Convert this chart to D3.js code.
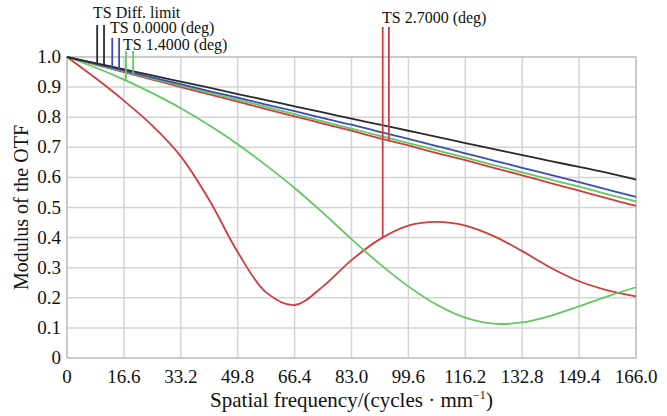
<!DOCTYPE html>
<head>
<meta charset="utf-8">
<style>
body { margin: 0; background: white; }
svg text { font-family: "Liberation Serif", "DejaVu Serif", serif; fill: #111; }
</style>
</head>
<body>
<svg id="chart" width="667" height="416"></svg>
<script src="https://d3js.org/d3.v7.min.js"></script>
<script>
// spatial frequency ticks (cycles/mm)
var freqTicks = [0, 16.6, 33.2, 49.8, 66.4, 83.0, 99.6, 116.2, 132.8, 149.4, 166.0];
var mtfTicks = [0, 0.1, 0.2, 0.3, 0.4, 0.5, 0.6, 0.7, 0.8, 0.9, 1.0];

// sample frequencies for the curves
var freq = [0, 8.3, 16.6, 24.9, 33.2, 41.5, 49.8, 58.1, 66.4, 74.7, 83.0, 91.3, 99.6, 107.9, 116.2, 124.5, 132.8, 141.1, 149.4, 157.7, 166.0];

var diffLimit = [1.0, 0.980, 0.959, 0.939, 0.918, 0.898, 0.877, 0.857, 0.836, 0.816, 0.795, 0.775, 0.755, 0.735, 0.714, 0.694, 0.674, 0.654, 0.635, 0.615, 0.593];
var ts00 = [1.0, 0.977, 0.955, 0.932, 0.910, 0.887, 0.865, 0.842, 0.820, 0.797, 0.775, 0.751, 0.728, 0.704, 0.680, 0.656, 0.632, 0.608, 0.584, 0.559, 0.535];
var ts14s = [1.0, 0.976, 0.952, 0.928, 0.905, 0.881, 0.858, 0.834, 0.810, 0.786, 0.762, 0.738, 0.714, 0.690, 0.666, 0.641, 0.617, 0.593, 0.569, 0.544, 0.520];
var ts14t = [1.0, 0.965, 0.925, 0.880, 0.830, 0.773, 0.710, 0.640, 0.565, 0.482, 0.395, 0.312, 0.238, 0.177, 0.134, 0.114, 0.118, 0.140, 0.172, 0.205, 0.235];
var ts27s = [1.0, 0.975, 0.950, 0.925, 0.900, 0.876, 0.852, 0.827, 0.803, 0.779, 0.755, 0.730, 0.706, 0.681, 0.657, 0.632, 0.607, 0.581, 0.556, 0.530, 0.505];
var ts27t = [1.0, 0.93, 0.855, 0.772, 0.670, 0.525, 0.352, 0.218, 0.176, 0.238, 0.325, 0.395, 0.440, 0.452, 0.440, 0.405, 0.355, 0.300, 0.255, 0.225, 0.205];

// field markers: frequency positions of the two ticks under each label
var markerNames = ["TS Diff. limit", "TS 0.0000 (deg)", "TS 1.4000 (deg)", "TS 2.7000 (deg)"];
var markerFreq = [[8.8, 10.8], [13.2, 15.2], [17.2, 19.3], [92.1, 93.9]];

var svg = d3.select("#chart");
var margin = { left: 67, right: 31, top: 57, bottom: 58 };
var width = 667 - margin.left - margin.right;
var height = 416 - margin.top - margin.bottom;

var x = d3.scaleLinear().domain([0, 166]).range([margin.left, margin.left + width]);
var y = d3.scaleLinear().domain([0, 1]).range([margin.top + height, margin.top]);

// grid
svg.append("g")
    .selectAll("line")
    .data(freqTicks)
    .enter().append("line")
    .attr("x1", function(d) { return x(d); })
    .attr("x2", function(d) { return x(d); })
    .attr("y1", y(0))
    .attr("y2", y(1))
    .attr("stroke", "#d4d4d4")
    .attr("stroke-width", 1.5);
svg.append("g")
    .selectAll("line")
    .data(mtfTicks)
    .enter().append("line")
    .attr("x1", x(0))
    .attr("x2", x(166))
    .attr("y1", function(d) { return y(d); })
    .attr("y2", function(d) { return y(d); })
    .attr("stroke", "#d4d4d4")
    .attr("stroke-width", 1.5);
svg.append("rect")
    .attr("x", x(0))
    .attr("y", y(1))
    .attr("width", width)
    .attr("height", height)
    .attr("fill", "none")
    .attr("stroke", "#c4c4c4")
    .attr("stroke-width", 1.5);

// tick labels
svg.append("g")
    .selectAll("text")
    .data(mtfTicks)
    .enter().append("text")
    .attr("x", x(0) - 6)
    .attr("y", function(d) { return y(d) + 6; })
    .attr("text-anchor", "end")
    .attr("font-size", 19)
    .text(function(d) { return d === 0 ? "0" : d.toFixed(1); });
svg.append("g")
    .selectAll("text")
    .data(freqTicks)
    .enter().append("text")
    .attr("x", function(d) { return x(d); })
    .attr("y", y(0) + 25)
    .attr("text-anchor", "middle")
    .attr("font-size", 19)
    .text(function(d) { return d === 0 ? "0" : d.toFixed(1); });

// axis titles
svg.append("text")
    .attr("transform", "translate(28," + (margin.top + height / 2) + ") rotate(-90)")
    .attr("text-anchor", "middle")
    .attr("font-size", 20)
    .text("Modulus of the OTF");
var xt = svg.append("text")
    .attr("x", margin.left + width / 2)
    .attr("y", 407)
    .attr("text-anchor", "middle")
    .attr("font-size", 21);
xt.append("tspan").text("Spatial frequency/(cycles \u00b7 mm");
xt.append("tspan").attr("dy", -8).attr("font-size", 12).text("\u22121");
xt.append("tspan").attr("dy", 8).text(")");

// curves
var line = d3.line()
    .x(function(d, i) { return x(freq[i]); })
    .y(function(d) { return y(d); })
    .curve(d3.curveCatmullRom.alpha(0.5));

var series = [
    { values: ts27t, color: "#d23c3f" },
    { values: ts14t, color: "#63c763" },
    { values: ts27s, color: "#d23c3f" },
    { values: ts14s, color: "#63c763" },
    { values: ts00, color: "#3a4db3" },
    { values: diffLimit, color: "#2a2a2a" }
];
svg.append("g")
    .selectAll("path")
    .data(series)
    .enter().append("path")
    .attr("d", function(d) { return line(d.values); })
    .attr("fill", "none")
    .attr("stroke", function(d) { return d.color; })
    .attr("stroke-width", 1.8);

// markers
var markerColor = ["#2a2a2a", "#3a4db3", "#63c763", "#d23c3f"];
var markerTop = [25, 38, 51, 27];
var markerEnd = [[diffLimit, diffLimit], [ts00, ts00], [ts14t, ts14s], [ts27t, ts27s]];
var labelPos = [[93, 18], [110, 33], [123, 50], [382, 23]];

function valueAt(arr, f) {
    for (var i = 1; i < freq.length; i++) {
        if (f <= freq[i]) {
            var t = (f - freq[i - 1]) / (freq[i] - freq[i - 1]);
            return arr[i - 1] + t * (arr[i] - arr[i - 1]);
        }
    }
    return arr[arr.length - 1];
}

markerFreq.forEach(function(pair, k) {
    pair.forEach(function(f, j) {
        svg.append("line")
            .attr("x1", x(f))
            .attr("x2", x(f))
            .attr("y1", markerTop[k])
            .attr("y2", y(valueAt(markerEnd[k][j], f)))
            .attr("stroke", markerColor[k])
            .attr("stroke-width", 1.8);
    });
    svg.append("text")
        .attr("x", labelPos[k][0])
        .attr("y", labelPos[k][1])
        .attr("font-size", 16)
        .text(markerNames[k]);
});
</script>
</body>
